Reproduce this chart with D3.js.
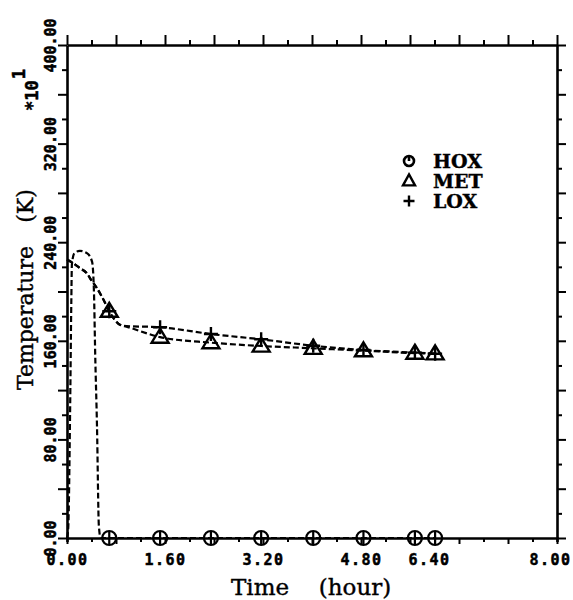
<!DOCTYPE html>
<html>
<head>
<meta charset="utf-8">
<script src="https://cdn.jsdelivr.net/npm/d3@7/dist/d3.min.js"></script>
<style>
  html, body { margin: 0; padding: 0; background: #fff; }
  svg { display: block; }
  .tick-label { font-family: "DejaVu Sans Mono", monospace; font-weight: bold; font-size: 15px; fill: #000; stroke: #000; stroke-width: 0.5px; }
  .title { font-family: "DejaVu Serif", serif; fill: #000; stroke: #000; stroke-width: 0.4px; }
</style>
</head>
<body>
<svg id="chart" width="573" height="600"></svg>
<script>
// Temperature histories (K, in units of 10^1) versus time (hour)
const hoxTime = [0, 0.02, 0.05, 0.07, 0.08, 0.12, 0.21, 0.33, 0.41, 0.44, 0.46, 0.49, 0.52, 0.55, 0.69, 1.52, 2.35, 3.17, 4.02, 4.84, 5.68, 6.01];
const hoxTemp = [0, 8, 100, 190, 222, 231, 233, 231, 224, 200, 150, 90, 10, 0, 0, 0, 0, 0, 0, 0, 0, 0];

const metTime = [0, 0.10, 0.21, 0.32, 0.40, 0.485, 0.567, 0.65, 0.69, 0.78, 0.865, 0.97, 1.52, 2.35, 3.17, 4.02, 4.84, 5.68, 6.01];
const metTemp = [226, 223, 219, 215, 209, 203, 196, 188, 184, 177, 173, 171.5, 163, 158.5, 155.8, 153.9, 152, 150, 149.5];

const loxTime = [0, 0.10, 0.21, 0.32, 0.40, 0.485, 0.567, 0.65, 0.69, 0.78, 0.865, 0.97, 1.52, 2.35, 3.17, 4.02, 4.84, 5.68, 6.01];
const loxTemp = [226, 223, 219, 215, 209, 203, 196, 188, 184, 177, 173, 172, 171, 165.5, 161.2, 156, 152.5, 150.4, 149.5];

// Sampled points marked with symbols
const markTime = [0.69, 1.52, 2.35, 3.17, 4.02, 4.84, 5.68, 6.01];
const hoxMarks = [0, 0, 0, 0, 0, 0, 0, 0];
const metMarks = [184, 163, 158.5, 155.8, 153.9, 152, 150, 149.5];
const loxMarks = [184, 171, 165.5, 161.2, 156, 152.5, 150.4, 149.5];

const seriesNames = ["HOX", "MET", "LOX"];
const xLabelTicks = [0, 1.6, 3.2, 4.8, 6.4, 8.0];
const yLabelTicks = [0, 80, 160, 240, 320, 400];

const svg = d3.select("#chart");
svg.append("rect").attr("width", 573).attr("height", 600).attr("fill", "#fff");

const x = d3.scaleLinear().domain([0, 8]).range([67, 557]);
const y = d3.scaleLinear().domain([0, 400]).range([538, 45]);

const near = (a, b) => Math.abs(a - b) < 1e-6;
const isMultiple = (v, step) => near(v / step, Math.round(v / step));
const xTicks = d3.range(0, 8.0001, 0.4).map(v => +v.toFixed(2));
const yTicks = d3.range(0, 400.001, 20);
const fmt = d3.format(".2f");

function styleAxis(g) {
  g.select(".domain").attr("stroke", "#000").attr("stroke-width", 2.6);
  g.selectAll(".tick line").attr("stroke", "#000").attr("stroke-width", 2);
}

// Bottom axis with labels every 1.6 h
const axisB = svg.append("g").attr("transform", `translate(0,${y(0)})`)
  .call(d3.axisBottom(x).tickValues(xTicks).tickSizeOuter(0).tickSize(4)
    .tickFormat(d => xLabelTicks.some(v => near(v, d)) ? fmt(d) : ""));
styleAxis(axisB);
axisB.selectAll(".tick line").attr("y2", d => isMultiple(d, 0.8) ? 6 : 4);
const xLabelShift = { "6.40": -30, "8.00": -7 };
axisB.selectAll(".tick text")
  .attr("class", "tick-label")
  .attr("y", 16).attr("dy", "0.71em")
  .attr("dx", function() { return xLabelShift[this.textContent] || 0; })
  .style("letter-spacing", "1.5px");

// Top axis
const axisT = svg.append("g").attr("transform", `translate(0,${y(400)})`)
  .call(d3.axisTop(x).tickValues(xTicks).tickSizeOuter(0).tickFormat(""));
styleAxis(axisT);
axisT.selectAll(".tick line").attr("y2", d => isMultiple(d, 0.8) ? -10 : -5);

// Left axis with rotated labels every 80
const axisL = svg.append("g").attr("transform", `translate(${x(0)},0)`)
  .call(d3.axisLeft(y).tickValues(yTicks).tickSizeOuter(0)
    .tickFormat(d => yLabelTicks.includes(d) ? fmt(d) : ""));
styleAxis(axisL);
axisL.selectAll(".tick line").attr("x2", d => isMultiple(d, 40) ? -9 : -5);
axisL.selectAll(".tick text")
  .attr("class", "tick-label")
  .attr("x", 0).attr("y", -11).attr("dy", 0)
  .attr("text-anchor", "middle")
  .attr("transform", "rotate(-90)");

// Right axis
const axisR = svg.append("g").attr("transform", `translate(${x(8)},0)`)
  .call(d3.axisRight(y).tickValues(yTicks).tickSizeOuter(0).tickFormat(""));
styleAxis(axisR);
axisR.selectAll(".tick line").attr("x2", d => isMultiple(d, 40) ? 9 : 5);

// Axis titles
svg.append("text").attr("class", "title")
  .attr("x", 260).attr("y", 595).attr("text-anchor", "middle")
  .style("font-size", "23px").text("Time");
svg.append("text").attr("class", "title")
  .attr("x", 355).attr("y", 595).attr("text-anchor", "middle")
  .style("font-size", "23px").text("(hour)");

svg.append("text").attr("class", "title")
  .attr("transform", "translate(33,318) rotate(-90)")
  .attr("text-anchor", "middle").style("font-size", "22px").text("Temperature");
svg.append("text").attr("class", "title")
  .attr("transform", "translate(33,206) rotate(-90)")
  .attr("text-anchor", "middle").style("font-size", "22px").text("(K)");

// Scale factor note
const sf = svg.append("text").attr("class", "tick-label")
  .attr("transform", "translate(38,111) rotate(-90)")
  .style("font-size", "17px");
sf.append("tspan").text("*10");
sf.append("tspan").attr("dy", -13).attr("dx", 1).text("1");

// Curves
const line = d3.line()
  .x(d => x(d[0])).y(d => y(d[1]))
  .curve(d3.curveMonotoneX);

const curves = [
  d3.zip(hoxTime, hoxTemp),
  d3.zip(metTime, metTemp),
  d3.zip(loxTime, loxTemp)
];
svg.append("g").selectAll("path").data(curves).join("path")
  .attr("d", line)
  .attr("fill", "none")
  .attr("stroke", "#000")
  .attr("stroke-width", 2.2)
  .attr("stroke-dasharray", "6,3");

// Marker shapes
function drawCircleMark(g, r) {
  g.append("circle").attr("r", r).attr("fill", "none").attr("stroke", "#000").attr("stroke-width", 2.2);
  g.append("line").attr("y1", -r).attr("y2", r).attr("stroke", "#000").attr("stroke-width", 2.2);
}
function drawTriMark(g, w, h) {
  g.append("path")
    .attr("d", `M0,${-h * 0.6}L${w / 2},${h * 0.4}L${-w / 2},${h * 0.4}Z`)
    .attr("fill", "none").attr("stroke", "#000").attr("stroke-width", 2.4);
}
function drawPlusMark(g, s) {
  g.append("path")
    .attr("d", `M0,${-s}V${s}M${-s},0H${s}`)
    .attr("stroke", "#000").attr("stroke-width", 2.4);
}

const markG = svg.append("g");
d3.zip(markTime, hoxMarks).forEach(d => {
  drawCircleMark(markG.append("g").attr("transform", `translate(${x(d[0])},${y(d[1])})`), 7);
});
d3.zip(markTime, metMarks).forEach(d => {
  drawTriMark(markG.append("g").attr("transform", `translate(${x(d[0])},${y(d[1])})`), 17, 14);
});
d3.zip(markTime, loxMarks).forEach(d => {
  drawPlusMark(markG.append("g").attr("transform", `translate(${x(d[0])},${y(d[1])})`), 7);
});

// Legend
const legend = svg.append("g");
seriesNames.forEach((name, i) => {
  const cy = 161 + i * 20;
  const sym = legend.append("g").attr("transform", `translate(409,${cy})`);
  if (i === 0) {
    sym.append("circle").attr("r", 5).attr("fill", "none").attr("stroke", "#000").attr("stroke-width", 2.6);
    sym.append("line").attr("y1", -5).attr("y2", 0).attr("stroke", "#000").attr("stroke-width", 2.6);
  } else if (i === 1) {
    drawTriMark(sym, 12, 11);
  } else {
    drawPlusMark(sym, 5.5);
  }
  legend.append("text").attr("class", "title")
    .attr("x", 433).attr("y", cy + 6.5)
    .style("font-size", "19px").style("font-weight", "bold")
    .text(name);
});
</script>
</body>
</html>
